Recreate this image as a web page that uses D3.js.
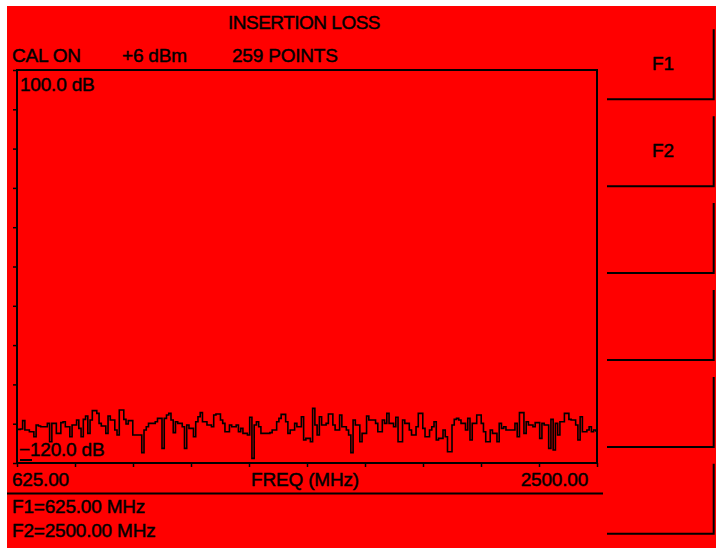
<!DOCTYPE html>
<html>
<head>
<meta charset="utf-8">
<script src="https://cdn.jsdelivr.net/npm/d3@7"></script>
<style>
  html, body { margin: 0; padding: 0; background: #ffffff; }
  svg text { font-family: "Liberation Sans", Arial, sans-serif; fill: #000; stroke: #000; stroke-width: 0.45px; }
</style>
</head>
<body>
<svg id="chart" width="716" height="548"></svg>
<script>
// ---- data ----
const title = "INSERTION LOSS";
const headerItems = ["CAL ON", "+6 dBm", "259 POINTS"];
const freqStart = 625.0;
const freqStop = 2500.0;
const pointCount = 259;
const dbTop = 100.0;
const dbBottom = -120.0;
const yTickValues = [-120, -98, -76, -54, -32, -10, 12, 34, 56, 78, 100];
const xTickValues = [625, 812.5, 1000, 1187.5, 1375, 1562.5, 1750, 1937.5, 2125, 2312.5, 2500];
const softKeys = ["F1", "F2", "", "", "", ""];
const footerLines = ["F1=625.00 MHz", "F2=2500.00 MHz"];
const traceDb = [
  -101.2,-101.2,-101.0,-96.3,-101.5,-101.5,-102.5,-102.5,-105.3,-98.7,
  -99.3,-99.7,-99.7,-99.7,-97.8,-108.1,-97.8,-97.8,-103.4,-103.4,
  -97.4,-96.9,-99.7,-99.7,-105.3,-98.7,-98.7,-95.9,-100.6,-105.3,
  -95.6,-93.7,-103.4,-95.9,-90.7,-90.7,-92.2,-97.8,-99.3,-99.3,
  -103.4,-93.7,-95.9,-95.9,-101.5,-104.3,-90.3,-90.3,-95.6,-98.2,
  -96.3,-96.3,-104.3,-104.3,-104.3,-104.3,-114.2,-101.5,-99.7,-97.8,
  -97.8,-97.8,-96.9,-95.0,-95.0,-111.8,-95.0,-93.1,-92.2,-95.9,
  -103.0,-96.9,-97.8,-97.8,-99.7,-111.8,-98.7,-100.6,-100.6,-105.3,
  -96.9,-94.1,-91.8,-96.9,-96.9,-98.7,-98.7,-99.7,-93.1,-92.6,
  -92.6,-95.9,-97.8,-102.5,-102.5,-98.7,-99.7,-99.7,-98.7,-102.5,
  -100.6,-103.4,-103.4,-104.3,-94.4,-117.4,-98.7,-96.9,-99.7,-103.4,
  -103.4,-103.4,-103.4,-103.0,-101.5,-101.5,-96.9,-95.0,-92.8,-92.8,
  -96.9,-103.4,-101.5,-101.5,-97.8,-99.7,-99.7,-94.1,-107.1,-106.2,
  -106.2,-108.1,-89.4,-98.7,-104.3,-94.1,-98.7,-98.7,-97.8,-92.6,
  -92.6,-98.7,-101.5,-101.5,-93.1,-99.7,-99.7,-101.5,-104.3,-114.2,
  -95.9,-98.7,-98.7,-108.1,-103.4,-103.4,-93.7,-95.9,-95.9,-95.9,
  -97.8,-102.5,-102.5,-95.9,-97.8,-92.2,-97.8,-97.8,-99.7,-94.4,
  -108.1,-108.1,-95.9,-97.8,-97.8,-101.5,-104.3,-104.3,-99.7,-92.2,
  -92.2,-100.6,-105.3,-105.3,-101.5,-99.7,-96.9,-107.1,-106.2,-106.2,
  -101.5,-105.3,-113.7,-113.7,-98.7,-95.6,-95.0,-95.9,-97.8,-97.8,
  -101.5,-95.0,-107.1,-97.8,-97.8,-93.1,-93.1,-97.8,-102.5,-108.1,
  -108.1,-101.5,-103.4,-103.4,-108.1,-97.8,-100.6,-99.7,-101.5,-101.5,
  -101.5,-101.5,-97.8,-105.3,-91.8,-91.8,-103.4,-96.9,-98.7,-98.7,
  -99.7,-97.4,-97.4,-106.2,-97.8,-98.7,-98.7,-111.8,-95.6,-112.7,
  -97.8,-104.3,-96.9,-96.9,-92.2,-92.2,-95.6,-95.9,-95.9,-98.7,
  -107.1,-94.1,-102.5,-102.5,-101.5,-99.7,-102.5,-101.5,-102.0
];
const traceFreq = traceDb.map((_, i) => freqStart + i * (freqStop - freqStart) / (pointCount - 1));

// ---- layout ----
const svg = d3.select("#chart");
const plot = { left: 17, top: 70, right: 597, bottom: 463 };
const FS = 19;

// red screen background
svg.append("rect").attr("x", 7).attr("y", 6).attr("width", 709).attr("height", 542).attr("fill", "#ff0000");

const x = d3.scaleLinear().domain([freqStart, freqStop]).range([plot.left, plot.right]);
const y = d3.scaleLinear().domain([dbBottom, dbTop]).range([plot.bottom, plot.top]);

// title + header
svg.append("text").attr("x", 304).attr("y", 29).attr("text-anchor", "middle")
  .attr("font-size", FS).attr("letter-spacing", "-0.5").text(title);
const headerX = [12, 122, 232];
svg.selectAll("text.hdr").data(headerItems).join("text").attr("class", "hdr")
  .attr("x", (d, i) => headerX[i]).attr("y", 62).attr("font-size", FS).attr("letter-spacing", "-0.2").text(d => d);

// axes ticks (outer)
const yAxis = d3.axisLeft(y).tickValues(yTickValues).tickSize(4).tickFormat("");
const gy = svg.append("g").attr("transform", `translate(${plot.left},0)`).call(yAxis);
gy.select(".domain").remove();
gy.selectAll("line").attr("stroke", "#000").attr("stroke-width", 1.5);

const xAxis = d3.axisBottom(x).tickValues(xTickValues).tickSize(4).tickFormat("");
const gx = svg.append("g").attr("transform", `translate(0,${plot.bottom})`).call(xAxis);
gx.select(".domain").remove();
gx.selectAll("line").attr("stroke", "#000").attr("stroke-width", 1.5);

// clip
svg.append("clipPath").attr("id", "clip").append("rect")
  .attr("x", plot.left).attr("y", plot.top)
  .attr("width", plot.right - plot.left).attr("height", plot.bottom - plot.top);

// trace
const line = d3.line().x((d, i) => x(traceFreq[i])).y(d => y(d)).curve(d3.curveStep);
svg.append("path").datum(traceDb).attr("d", line).attr("clip-path", "url(#clip)")
  .attr("fill", "none").attr("stroke", "#000").attr("stroke-width", 1.6);

// frame
svg.append("rect").attr("x", plot.left).attr("y", plot.top)
  .attr("width", plot.right - plot.left).attr("height", plot.bottom - plot.top)
  .attr("fill", "none").attr("stroke", "#000").attr("stroke-width", 2);

// small marker bar at bottom-left
svg.append("rect").attr("x", x(freqStart) + 3).attr("y", plot.bottom - 4).attr("width", 12).attr("height", 2).attr("fill", "#000");

// scale labels
svg.append("text").attr("x", 20).attr("y", 91).attr("font-size", FS).attr("letter-spacing", "-0.2").text(`${dbTop.toFixed(1)} dB`);
svg.append("text").attr("x", 19).attr("y", 456).attr("font-size", FS).attr("letter-spacing", "-0.2").text(`\u2212${Math.abs(dbBottom).toFixed(1)} dB`);

svg.append("text").attr("x", 12).attr("y", 486).attr("font-size", FS).attr("letter-spacing", "-0.2").text(freqStart.toFixed(2));
svg.append("text").attr("x", 305).attr("y", 486).attr("text-anchor", "middle").attr("font-size", FS).attr("letter-spacing", "-0.2").text("FREQ (MHz)");
svg.append("text").attr("x", 588).attr("y", 486).attr("text-anchor", "end").attr("font-size", FS).attr("letter-spacing", "-0.2").text(freqStop.toFixed(2));

// separator
svg.append("line").attr("x1", 7).attr("x2", 603).attr("y1", 493.5).attr("y2", 493.5).attr("stroke", "#000").attr("stroke-width", 2);

// footer
svg.selectAll("text.ftr").data(footerLines).join("text").attr("class", "ftr")
  .attr("x", 12).attr("y", (d, i) => 513 + i * 24).attr("font-size", FS).attr("letter-spacing", "-0.2").text(d => d);

// soft keys
const keyStep = 86.9;
const keys = svg.selectAll("g.key").data(softKeys).join("g").attr("class", "key")
  .attr("transform", (d, i) => `translate(0,${99.3 + i * keyStep})`);
keys.append("path").attr("d", "M607,0 L713.7,0 L713.7,-70")
  .attr("fill", "none").attr("stroke", "#000").attr("stroke-width", 2);
keys.append("text").attr("x", 663).attr("y", -29).attr("text-anchor", "middle")
  .attr("font-size", FS).text(d => d);
</script>
</body>
</html>
